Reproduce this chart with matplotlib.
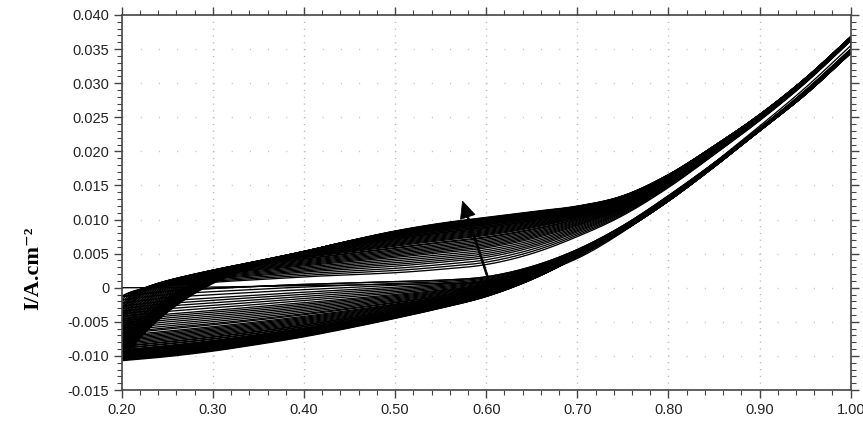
import numpy as np
import matplotlib
matplotlib.use("Agg")
import matplotlib.pyplot as plt
from matplotlib.ticker import MultipleLocator, FixedLocator

# ---- data ----
potential = [0.20, 0.25, 0.30, 0.35, 0.40, 0.45, 0.50, 0.55, 0.60,
             0.65, 0.70, 0.75, 0.80, 0.85, 0.90, 0.95, 1.00]

anodic_first = [0.0000, 0.0000, 0.0001, 0.0002, 0.0003, 0.0004, 0.0005, 0.0006, 0.0008,
                0.0019, 0.0043, 0.0082, 0.0130, 0.0183, 0.0237, 0.0293, 0.0355]
cathodic_first = [-0.0013, -0.0005, -0.0001, 0.0002, 0.0005, 0.0007, 0.0009, 0.0011, 0.0016,
                  0.0031, 0.0056, 0.0091, 0.0135, 0.0183, 0.0234, 0.0289, 0.0350]
anodic_second = [-0.0005, 0.0003, 0.0008, 0.0012, 0.0016, 0.0019, 0.0022, 0.0027, 0.0034,
                 0.0050, 0.0075, 0.0106, 0.0147, 0.0195, 0.0245, 0.0300, 0.0362]
anodic_last = [0.0012, 0.0027, 0.0040, 0.0051, 0.0062, 0.0074, 0.0086, 0.0096, 0.0104,
               0.0112, 0.0120, 0.0135, 0.0166, 0.0208, 0.0254, 0.0307, 0.0368]
cathodic_last = [-0.0107, -0.0101, -0.0093, -0.0083, -0.0072, -0.0059, -0.0045, -0.0030, -0.0013,
                 0.0012, 0.0045, 0.0083, 0.0127, 0.0177, 0.0230, 0.0283, 0.0344]

# growth of later cycles (fraction of the way from cycle 2 to the last one)
growth = [0.00, 0.05, 0.10, 0.15, 0.19, 0.23, 0.27, 0.31, 0.35, 0.38,
          0.41, 0.44, 0.47, 0.50, 0.53, 0.56, 0.58, 0.61, 0.63, 0.65,
          0.67, 0.69, 0.71, 0.73, 0.75, 0.77, 0.78, 0.80, 0.81, 0.83,
          0.84, 0.85, 0.86, 0.87, 0.88, 0.89, 0.90, 0.91, 0.92, 0.93,
          0.94, 0.95, 0.955, 0.96, 0.97, 0.975, 0.98, 0.985, 0.99, 1.00]

# width (in V) of the current rise after the switch at 0.20 V: first / last of later cycles
rise_width = [0.012, 0.080]

arrow_start = (0.604, 0.0006)
arrow_end = (0.574, 0.0127)

xticks = [0.20, 0.30, 0.40, 0.50, 0.60, 0.70, 0.80, 0.90, 1.00]
xticklabels = ["0.20", "0.30", "0.40", "0.50", "0.60", "0.70", "0.80", "0.90", "1.00"]
yticks = [-0.015, -0.010, -0.005, 0.0, 0.005, 0.010, 0.015, 0.020, 0.025, 0.030, 0.035, 0.040]
yticklabels = ["-0.015", "-0.010", "-0.005", "0", "0.005", "0.010", "0.015", "0.020",
               "0.025", "0.030", "0.035", "0.040"]
ylabel = "I/A.cm\u207b\u00b2"


def smooth(xk, yk, x):
    """Cubic Hermite through the read points."""
    xk = np.asarray(xk, float)
    yk = np.asarray(yk, float)
    m = np.gradient(yk, xk)
    idx = np.clip(np.searchsorted(xk, x) - 1, 0, len(xk) - 2)
    h = xk[idx + 1] - xk[idx]
    t = (x - xk[idx]) / h
    h00 = 2 * t**3 - 3 * t**2 + 1
    h10 = t**3 - 2 * t**2 + t
    h01 = -2 * t**3 + 3 * t**2
    h11 = t**3 - t**2
    return h00 * yk[idx] + h10 * h * m[idx] + h01 * yk[idx + 1] + h11 * h * m[idx + 1]


E = np.linspace(0.2, 1.0, 600)
a1 = smooth(potential, anodic_first, E)
c1 = smooth(potential, cathodic_first, E)
a2 = smooth(potential, anodic_second, E)
aN = smooth(potential, anodic_last, E)
cN = smooth(potential, cathodic_last, E)

fig = plt.figure(figsize=(8.63, 4.25), dpi=100)
ax = fig.add_axes([121.7 / 863, 1 - 390 / 425, (850.7 - 121.7) / 863, 375 / 425])

lw = 0.95
# first cycle
ax.plot(np.concatenate([E, E[::-1]]), np.concatenate([a1, c1[::-1]]), color="black", lw=lw)
prev_end = c1[0]
for g in growth:
    plateau = a2 + g * (aN - a2)
    cat = c1 + g * (cN - c1)
    w = rise_width[0] + (rise_width[1] - rise_width[0]) * g**3
    an = plateau + (prev_end - plateau[0]) * np.exp(-(E - 0.2) / w)
    ax.plot(np.concatenate([E, E[::-1]]), np.concatenate([an, cat[::-1]]), color="black", lw=lw)
    prev_end = cat[0]

ax.annotate("", xy=arrow_end, xytext=arrow_start,
            arrowprops=dict(facecolor="black", edgecolor="black", width=1.3,
                            headwidth=11, headlength=12, shrink=0.0, lw=0.5))

ax.set_xlim(0.2, 1.0)
ax.set_ylim(-0.015, 0.040)

ax.xaxis.set_major_locator(FixedLocator(xticks))
ax.set_xticklabels(xticklabels)
ax.yaxis.set_major_locator(FixedLocator(yticks))
ax.set_yticklabels(yticklabels)
ax.xaxis.set_minor_locator(MultipleLocator(0.02))
ax.yaxis.set_minor_locator(MultipleLocator(0.001))

spine_col = "#444444"
for s in ax.spines.values():
    s.set_color(spine_col)
    s.set_linewidth(1.2)

ax.tick_params(which="both", direction="out", top=True, right=True, color=spine_col,
               labelcolor="#222222")
ax.tick_params(which="major", length=6, width=1.0, pad=3)
ax.tick_params(which="minor", length=3.5, width=0.8)
ax.tick_params(axis="y", which="both", labelright=False)
ax.tick_params(axis="x", which="both", labeltop=False)
for lab in ax.get_xticklabels() + ax.get_yticklabels():
    lab.set_fontfamily("Liberation Sans")
    lab.set_fontsize(10.5)

# dotted grid: dots at the minor tick positions
for xv in xticks[1:-1]:
    ax.axvline(xv, color="#b5b5b5", lw=1.0, linestyle=(0, (0.8, 4.1)), zorder=0)
for yv in yticks[1:-1]:
    ax.axhline(yv, color="#c5c5c5", lw=1.0, linestyle=(0, (0.8, 12.3)), zorder=0)

fig.text(33 / 863, 1 - 268 / 425, ylabel, rotation=90, ha="center", va="center",
         family=["Liberation Serif", "DejaVu Serif"], fontweight="bold", fontsize=16)

fig.savefig("out.png", dpi=100, facecolor="white")
